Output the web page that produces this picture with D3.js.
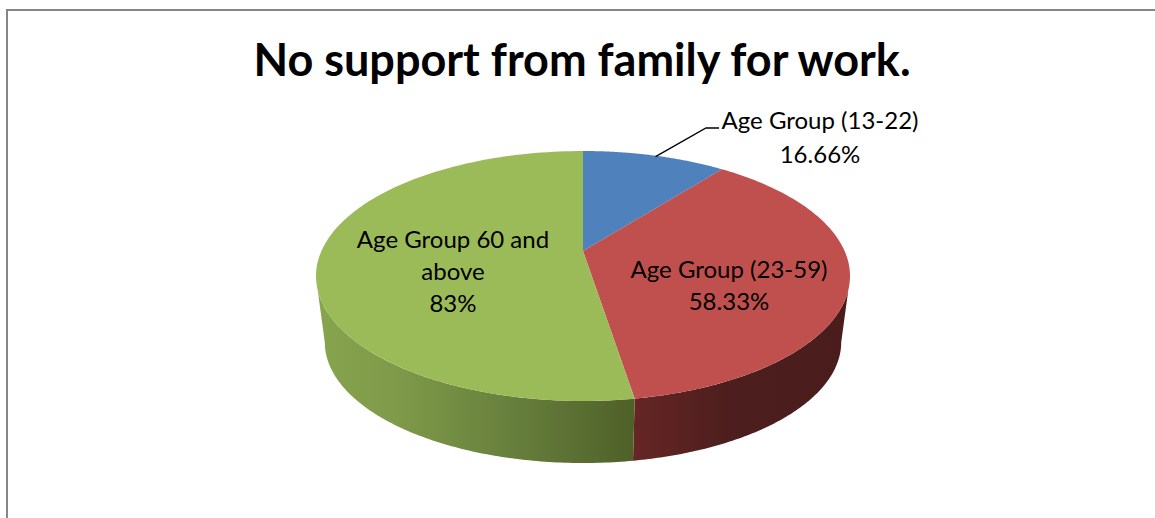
<!DOCTYPE html>
<html>
<head>
<meta charset="utf-8">
<script src="https://cdn.jsdelivr.net/npm/d3@7"></script>
<style>
  html, body { margin: 0; padding: 0; background: #fff; }
  svg { display: block; }
  text { font-family: Lato, "Open Sans", sans-serif; fill: #000; }
</style>
</head>
<body>
<svg id="chart" width="1155" height="518"></svg>
<script>
const titleText = "No support from family for work.";
const categories = ["Age Group (13-22)", "Age Group (23-59)", "Age Group 60 and above"];
const shares = [16.66, 58.33, 83];
const shareLabels = ["16.66%", "58.33%", "83%"];
const topColors = ["#4f81bd", "#c0504d", "#9bbb59"];
const wallStops = [
  null,
  [["#652625", 0], ["#4c1e1d", 0.45], ["#4a1d1c", 1]],
  [["#87a44e", 0], ["#7f9a49", 0.25], ["#677f3d", 0.62], ["#4f6028", 1]]
];

const svg = d3.select("#chart");
const TAU = Math.PI * 2;

// Chart frame
svg.append("path")
  .attr("d", "M7,518V10H1155")
  .attr("fill", "none")
  .attr("stroke", "#868686")
  .attr("stroke-width", 2);

// Tilted disc with perspective: the back of the pie recedes from the viewer
const persp = 0.2;
function project(angle, plane) {
  const u = Math.sin(angle), v = Math.cos(angle), w = 1 + persp * v;
  return [plane.cx + plane.rx * u / w, plane.cy - plane.ry * v / w];
}
const topPlane = { cx: 583, cy: 251, rx: 261.6, ry: 120 };
const basePlane = { cx: 583, cy: 318, rx: 253, ry: 116 };

const arcs = d3.pie().sort(null).value(d => d)(shares);
const line = d3.line();
const sweep = (a0, a1, plane) =>
  d3.range(0, 121).map(i => project(a0 + (a1 - a0) * i / 120, plane));

// Side wall gradients run left to right in page coordinates
const defs = svg.append("defs");
const frontAngle = arcs[1].endAngle;
const wallRange = [
  null,
  [project(frontAngle, topPlane)[0], 850],
  [316, project(frontAngle, topPlane)[0]]
];
wallStops.forEach((stops, i) => {
  if (!stops) return;
  const g = defs.append("linearGradient")
    .attr("id", "wall" + i)
    .attr("gradientUnits", "userSpaceOnUse")
    .attr("x1", wallRange[i][0]).attr("x2", wallRange[i][1])
    .attr("y1", 0).attr("y2", 0);
  stops.forEach(([c, o]) => g.append("stop").attr("offset", o).attr("stop-color", c));
});

// Silhouette of the side: the rim leaves the top face lower than the base's widest point
const topTurn = Math.PI / 2 + 0.31;
const baseTurn = Math.PI / 2 + Math.asin(persp);
const walls = [
  { i: 1, top0: topTurn, base0: baseTurn, a1: frontAngle },
  { i: 2, top0: TAU - topTurn, base0: TAU - baseTurn, a1: frontAngle }
];
svg.selectAll("path.wall").data(walls).join("path")
  .attr("class", "wall")
  .attr("fill", d => `url(#wall${d.i})`)
  .attr("d", d => line([...sweep(d.top0, d.a1, topPlane), ...sweep(d.a1, d.base0, basePlane)]) + "Z");

// Top face slices
svg.selectAll("path.slice").data(arcs).join("path")
  .attr("class", "slice")
  .attr("fill", (d, i) => topColors[i])
  .attr("d", d => line([[topPlane.cx, topPlane.cy], ...sweep(d.startAngle, d.endAngle, topPlane)]) + "Z");

// Title
svg.append("text")
  .attr("x", 582).attr("y", 75.5)
  .attr("text-anchor", "middle")
  .attr("font-size", 45).attr("font-weight", 700)
  .text(titleText);

// Leader line for the outside label
const leaderStart = project(arcs[0].startAngle + (arcs[0].endAngle - arcs[0].startAngle) / 2, topPlane);
svg.append("path")
  .attr("d", line([[leaderStart[0] + 1, leaderStart[1] + 1], [706, 128], [719, 128]]))
  .attr("fill", "none").attr("stroke", "#000").attr("stroke-width", 1.3);

// Data labels
const labelLayout = [
  { x: 820, y: 129, step: 33.5, lines: [categories[0], shareLabels[0]] },
  { x: 729, y: 278, step: 32, lines: [categories[1], shareLabels[1]] },
  { x: 453, y: 248, step: 32, lines: ["Age Group 60 and", "above", shareLabels[2]] }
];
labelLayout.forEach(l => {
  svg.append("text")
    .attr("text-anchor", "middle").attr("font-size", 24)
    .selectAll("tspan").data(l.lines).join("tspan")
    .attr("x", l.x)
    .attr("y", (d, i) => l.y + i * l.step)
    .text(d => d);
});
</script>
</body>
</html>
